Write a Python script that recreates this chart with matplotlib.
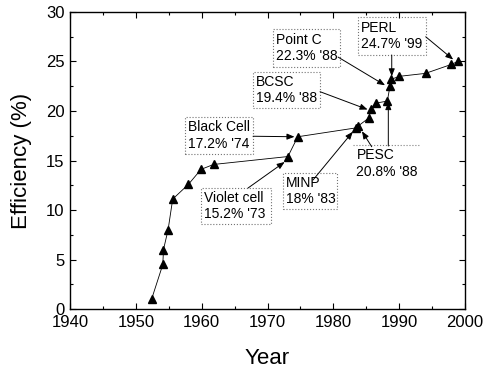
import matplotlib
matplotlib.use('Agg')
import matplotlib.pyplot as plt
from matplotlib.patches import Rectangle
from matplotlib.ticker import MultipleLocator

plt.rcParams['font.family'] = ['Liberation Sans', 'DejaVu Sans']

# 数据：年份与效率（%）
years = [1952.4, 1954.1, 1954.2, 1954.9, 1955.6, 1958.0, 1959.9, 1961.8,
         1973.1, 1974.6, 1983.5, 1983.8, 1985.4, 1985.7, 1986.5, 1988.2,
         1988.6, 1988.8, 1990.0, 1994.0, 1997.9, 1998.9]
eff = [1.0, 4.5, 6.0, 8.0, 11.1, 12.6, 14.1, 14.6,
       15.4, 17.4, 18.3, 18.5, 19.3, 20.2, 20.8, 21.0,
       22.5, 23.2, 23.5, 23.8, 24.7, 25.0]

# 标注文字
labels = ["PERL\n24.7% '99", "Point C\n22.3% '88", "BCSC\n19.4% '88",
          "Black Cell\n17.2% '74", "Violet cell\n15.2% '73", "MINP\n18% '83",
          "PESC\n20.8% '88"]
# 文本框 (x0, x1, y_bottom, y_top)
boxes = [(1983.7, 1994.0, 25.66, 29.5), (1970.8, 1981.0, 24.44, 28.28),
         (1967.8, 1978.0, 20.3, 23.94), (1957.5, 1967.8, 15.66, 19.39),
         (1959.85, 1970.5, 8.59, 12.22), (1972.35, 1980.56, 10.1, 13.74),
         (1983.0, 1993.2, 13.2, 16.57)]
# 箭头 (起点, 终点)
arrows = [((1988.87, 25.66), (1988.87, 23.5)), ((1994.03, 27.5), (1998.2, 25.2)),
          ((1980.71, 25.45), (1987.85, 22.6)), ((1977.98, 21.95), (1985.2, 20.15)),
          ((1967.8, 17.45), (1974.1, 17.4)), ((1967.04, 12.22), (1972.6, 14.85)),
          ((1976.91, 13.03), (1982.95, 17.9)), ((1985.83, 16.39), (1984.35, 17.95)),
          ((1988.35, 16.46), (1988.35, 20.9))]

fig = plt.figure(figsize=(4.85, 3.68), dpi=100)
ax = fig.add_axes([0.1443, 0.1603, 0.8145, 0.8071])

ax.plot(years, eff, color='black', lw=0.6, marker='^', ms=5.5, mfc='black', mec='black')

for i, (x0, x1, y0, y1) in enumerate(boxes):
    if i == len(boxes) - 1:
        # PESC 只有上边框
        ax.plot([x0, x1], [y1, y1], color='0.5', lw=0.8, ls=':')
    else:
        ax.add_patch(Rectangle((x0, y0), x1 - x0, y1 - y0, fill=False,
                               ec='0.45', lw=0.8, ls=':'))
    ax.text(x0 + 0.5, (y0 + y1) / 2 if i < len(boxes) - 1 else y1 - 1.85,
            labels[i], ha='left', va='center', fontsize=10, linespacing=1.25)

for (s, e) in arrows:
    ax.annotate('', xy=e, xytext=s,
                arrowprops=dict(arrowstyle='-|>,head_length=0.45,head_width=0.18',
                                color='black', lw=0.7, shrinkA=0, shrinkB=0))

ax.set_xlim(1940, 2000)
ax.set_ylim(0, 30)
ax.xaxis.set_major_locator(MultipleLocator(10))
ax.xaxis.set_minor_locator(MultipleLocator(5))
ax.yaxis.set_major_locator(MultipleLocator(5))
ax.yaxis.set_minor_locator(MultipleLocator(2.5))
ax.tick_params(which='both', direction='in', top=True, right=True, labelsize=12)
ax.tick_params(which='major', length=4, width=0.8)
ax.tick_params(axis='x', which='major', pad=4)
ax.tick_params(axis='y', which='major', pad=4)
ax.tick_params(which='minor', length=2.5, width=0.8)
for sp in ax.spines.values():
    sp.set_linewidth(1.0)

ax.set_xlabel('Year', fontsize=16, labelpad=13)
ax.set_ylabel('Efficiency (%)', fontsize=16, labelpad=10)

fig.savefig('out.png', dpi=100)
